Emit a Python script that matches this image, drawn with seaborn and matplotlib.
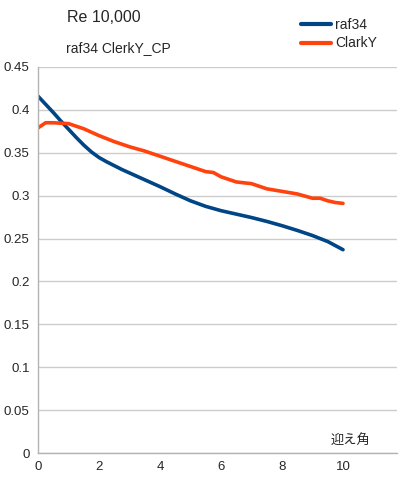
import matplotlib
matplotlib.use("Agg")
import matplotlib.pyplot as plt
import seaborn as sns
import pandas as pd
from matplotlib.lines import Line2D

# Data
angle_raf34 = [0, 0.25, 0.5, 0.75, 1.0, 1.25, 1.5, 1.75, 2.0, 2.25, 2.5, 2.75, 3.0,
               3.5, 4.0, 4.5, 5.0, 5.5, 6.0, 6.5, 7.0, 7.5,
               8.0, 8.5, 9.0, 9.5, 10.0]
cp_raf34 = [0.416, 0.4065, 0.397, 0.387, 0.3775, 0.368, 0.359, 0.351, 0.3445, 0.3395,
            0.335, 0.3305, 0.3265, 0.3185, 0.3105, 0.302, 0.294, 0.2875, 0.2825, 0.2785,
            0.2745, 0.270, 0.265, 0.2595, 0.2535, 0.2465, 0.237]
angle_clarky = [0, 0.25, 0.5, 1.0, 1.5, 2.0, 2.5, 3.0, 3.5, 4.0, 4.5, 5.0, 5.5,
                5.75, 6.0, 6.5, 6.75, 7.0, 7.5, 8.0, 8.5, 9.0, 9.25, 9.5, 9.75, 10.0]
cp_clarky = [0.379, 0.385, 0.385, 0.384, 0.378, 0.370, 0.363, 0.357, 0.352, 0.346,
             0.340, 0.334, 0.328, 0.327, 0.322, 0.316, 0.315, 0.314, 0.308, 0.305,
             0.302, 0.297, 0.297, 0.294, 0.292, 0.291]
series_names = ["raf34", "ClarkY"]
colors = ["#004586", "#ff420e"]
y_ticks = [0, 0.05, 0.1, 0.15, 0.2, 0.25, 0.3, 0.35, 0.4, 0.45]
y_tick_labels = ["0", "0.05", "0.1", "0.15", "0.2", "0.25", "0.3", "0.35", "0.4", "0.45"]
x_ticks = [0, 2, 4, 6, 8, 10]

df = pd.concat([
    pd.DataFrame({"angle": angle_raf34, "cp": cp_raf34, "series": series_names[0]}),
    pd.DataFrame({"angle": angle_clarky, "cp": cp_clarky, "series": series_names[1]}),
])

sns.set_style("white")
plt.rcParams["font.family"] = ["Liberation Sans", "Noto Sans CJK JP", "DejaVu Sans"]

fig = plt.figure(figsize=(4, 5), dpi=100)
ax = fig.add_axes([0.095, 0.094, 0.8975, 0.772])

sns.lineplot(data=df, x="angle", y="cp", hue="series", palette=colors,
             hue_order=series_names, linewidth=2.6, ax=ax, legend=False, sort=False)

ax.set_xlim(0, 11.77)
ax.set_ylim(0, 0.45)
ax.set_xticks(x_ticks)
ax.set_xticklabels([str(t) for t in x_ticks], fontsize=9.5)
ax.set_yticks(y_ticks)
ax.set_yticklabels(y_tick_labels, fontsize=9.5)
ax.yaxis.grid(True, color="#cccccc", linewidth=1)
ax.xaxis.grid(False)
ax.tick_params(axis="y", length=4, color="#b3b3b3", pad=2)
ax.tick_params(axis="x", length=0, pad=6)
for s in ["top", "right"]:
    ax.spines[s].set_visible(False)
for s in ["left", "bottom"]:
    ax.spines[s].set_color("#b3b3b3")
    ax.spines[s].set_linewidth(1)
ax.set_xlabel("")
ax.set_ylabel("")

# Titles
fig.text(67 / 400, 1 - 17 / 500, "Re 10,000", fontsize=11.5, ha="left", va="center")
fig.text(118 / 400, 1 - 48 / 500, "raf34 ClerkY_CP", fontsize=10, ha="center", va="center")

# x label inside plot
ax.text(350 / 400, 1 - 440 / 500, "迎え角", transform=fig.transFigure, fontsize=9.5,
        ha="center", va="center", family=["Noto Sans CJK JP", "DejaVu Sans"])

# Legend
handles = [Line2D([0], [0], color=c, linewidth=3) for c in colors]
fig.legend(handles, series_names, loc="upper left", bbox_to_anchor=(295 / 400, 1 - 12 / 500),
           frameon=False, fontsize=10, handlelength=2.2, handletextpad=0.3,
           labelspacing=0.35, borderaxespad=0)

fig.savefig("out.png", dpi=100)
